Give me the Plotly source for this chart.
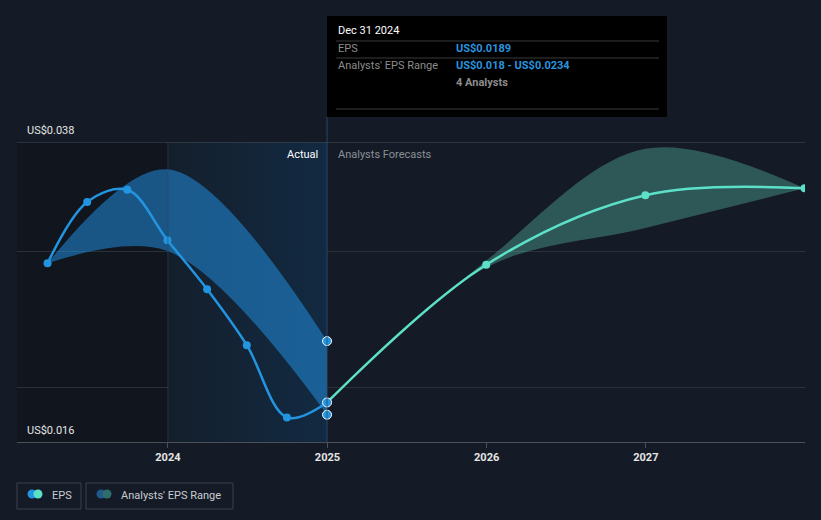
import plotly.graph_objects as go

# ---------------- data ----------------
actual_dates = ['2023-03-31', '2023-06-30', '2023-09-30', '2023-12-31',
                '2024-03-31', '2024-06-30', '2024-09-30', '2024-12-31']
actual_eps = [0.0291, 0.0336, 0.0345, 0.0308, 0.0272, 0.0231, 0.0178, 0.0189]

past_range_dates = ['2023-03-31', '2023-12-31', '2024-12-31']
past_low = [0.0291, 0.0300, 0.0180]
past_high = [0.0291, 0.0360, 0.0234]

fc_dates = ['2024-12-31', '2025-12-31', '2026-12-31', '2027-12-31']
fc_eps = [0.0189, 0.0290, 0.0341, 0.0346]
fc_low = [0.0189, 0.0288, 0.0317, 0.0346]
fc_high = [0.0189, 0.0293, 0.0375, 0.0346]

hover_date = '2024-12-31'
hover_eps = [0.0189]
hover_range = [0.0180, 0.0234]

tick_vals = ['2024-01-01', '2025-01-01', '2026-01-01', '2027-01-01']
tick_text = ['2024', '2025', '2026', '2027']
y_min, y_max = 0.016, 0.038
x_range = ['2023-01-20', '2028-01-01']

# ---------------- style ----------------
W, H = 821, 520
ML, MR, MT, MB = 17, 16, 142, 78
BG = '#151b26'
BLUE = '#2394df'
TEAL = '#5ce1c8'
FONT = 'Roboto'


def px(x):
    return (x - ML) / (W - ML - MR)


def py(y):
    return (H - MB - y) / (H - MT - MB)


fig = go.Figure()

# highlighted "past year" region with gradient
fig.add_trace(go.Scatter(
    x=['2024-01-01', '2024-12-31', '2024-12-31', '2024-01-01', '2024-01-01'],
    y=[y_min, y_min, y_max, y_max, y_min],
    mode='lines', line=dict(width=0), fill='toself',
    fillgradient=dict(type='horizontal',
                      colorscale=[[0, 'rgb(20,31,44)'], [1, 'rgb(18,42,66)']]),
    hoverinfo='skip', showlegend=False))

# past analyst range band
fig.add_trace(go.Scatter(x=past_range_dates, y=past_low, mode='lines',
                         line=dict(width=0, shape='spline', smoothing=1),
                         hoverinfo='skip', showlegend=False))
fig.add_trace(go.Scatter(x=past_range_dates, y=past_high, mode='lines',
                         line=dict(width=0, shape='spline', smoothing=1),
                         fill='tonexty', fillcolor='rgba(33,140,220,0.55)',
                         hoverinfo='skip', showlegend=False))

# forecast analyst range band
fig.add_trace(go.Scatter(x=fc_dates, y=fc_low, mode='lines',
                         line=dict(width=0, shape='spline', smoothing=1),
                         hoverinfo='skip', showlegend=False))
fig.add_trace(go.Scatter(x=fc_dates, y=fc_high, mode='lines',
                         line=dict(width=0, shape='spline', smoothing=1),
                         fill='tonexty', fillcolor='rgba(95,201,184,0.35)',
                         hoverinfo='skip', showlegend=False))

# forecast EPS line
fig.add_trace(go.Scatter(x=fc_dates[1:], y=fc_eps[1:], mode='markers',
                         marker=dict(color=TEAL, size=8),
                         hoverinfo='skip', showlegend=False))
fig.add_trace(go.Scatter(x=fc_dates, y=fc_eps, mode='lines',
                         line=dict(color=TEAL, width=2.5, shape='spline', smoothing=1),
                         hoverinfo='skip', showlegend=False))

# actual EPS line
fig.add_trace(go.Scatter(x=actual_dates, y=actual_eps, mode='lines+markers',
                         line=dict(color=BLUE, width=2.5, shape='spline', smoothing=1),
                         marker=dict(color=BLUE, size=8),
                         hoverinfo='skip', showlegend=False))

# hovered points
fig.add_trace(go.Scatter(x=[hover_date] * 3, y=hover_eps + hover_range, mode='markers',
                         marker=dict(color=BLUE, size=9, line=dict(color='white', width=1)),
                         hoverinfo='skip', showlegend=False))

shapes = []
# darker area before 2024
shapes.append(dict(type='rect', xref='x', yref='y', x0=x_range[0], x1='2024-01-01',
                   y0=y_min, y1=y_max, fillcolor='rgba(10,12,18,0.35)', line=dict(width=0),
                   layer='below'))
# top line
shapes.append(dict(type='line', xref='paper', yref='y', x0=0, x1=1, y0=y_max, y1=y_max,
                   line=dict(color='#4a4f58', width=1)))
# 2024 divider
shapes.append(dict(type='line', xref='x', yref='y', x0='2024-01-01', x1='2024-01-01',
                   y0=y_min, y1=y_max, line=dict(color='rgba(40,70,100,0.6)', width=1)))
# hover vertical line
shapes.append(dict(type='line', xref='x', yref='paper', x0=hover_date, x1=hover_date,
                   y0=0, y1=py(117), line=dict(color='rgba(45,80,115,0.8)', width=1)))
# tooltip box
shapes.append(dict(type='rect', xref='paper', yref='paper', x0=px(327), x1=px(667),
                   y0=py(117), y1=py(16), fillcolor='#000000', line=dict(width=0)))
for yy in (41, 58, 109):
    shapes.append(dict(type='line', xref='paper', yref='paper', x0=px(336), x1=px(659),
                       y0=py(yy), y1=py(yy), line=dict(color='#3a3a3a', width=1)))
# legend boxes
for x0, x1 in ((17, 81), (86, 233)):
    shapes.append(dict(type='rect', xref='paper', yref='paper', x0=px(x0), x1=px(x1),
                       y0=py(509), y1=py(483), line=dict(color='#3c424b', width=1),
                       fillcolor='rgba(0,0,0,0)'))
# legend icons
for cx, col in ((32, BLUE), (38, TEAL), (101, '#1f5a8a'), (107, '#2e6f6c')):
    shapes.append(dict(type='circle', xref='paper', yref='paper',
                       x0=px(cx - 4.5), x1=px(cx + 4.5), y0=py(498.5), y1=py(489.5),
                       fillcolor=col, line=dict(width=0)))

ann = []


def text(x, y, s, color, size=11, anchor='left', weight='normal'):
    ann.append(dict(x=px(x), y=py(y), xref='paper', yref='paper', text=s,
                    showarrow=False, xanchor=anchor, yanchor='middle',
                    font=dict(family=FONT, size=size, color=color, weight=weight)))


text(25, 130, 'US$0.038', '#e6e6e6')
text(25, 430, 'US$0.016', '#e6e6e6')
text(320, 154, 'Actual', '#ffffff', anchor='right')
text(336, 154, 'Analysts Forecasts', '#8a8f97')
text(336, 31, 'Dec 31 2024', '#ffffff')
text(336, 49, 'EPS', '#8c8c8c')
text(454, 49, 'US$0.0189', '#2a93df', weight='bold')
text(336, 66, "Analysts' EPS Range", '#8c8c8c')
text(454, 66, 'US$0.018 - US$0.0234', '#2a93df', weight='bold')
text(454, 83, '4 Analysts', '#8c8c8c', weight='bold')
text(50, 495, 'EPS', '#c8ccd2')
text(119, 495, "Analysts' EPS Range", '#c8ccd2')

fig.update_layout(
    width=W, height=H, margin=dict(l=ML, r=MR, t=MT, b=MB),
    paper_bgcolor=BG, plot_bgcolor=BG,
    font=dict(family=FONT, color='#e6e6e6'),
    showlegend=False, shapes=shapes, annotations=ann,
    xaxis=dict(type='date', range=x_range, tickvals=tick_vals, ticktext=tick_text,
               showgrid=False, zeroline=False, showline=True, linecolor='#4a4f58',
               ticks='outside', ticklen=5, tickcolor='#4a4f58',
               tickfont=dict(family=FONT, size=11, color='#e6e6e6', weight='bold'),
               fixedrange=True),
    yaxis=dict(range=[y_min, y_max], tickvals=[0.02, 0.03], showticklabels=False,
               gridcolor='#2b3139', gridwidth=1, zeroline=False, showline=False,
               fixedrange=True),
)

fig.write_html(
    'out.html',
    config={'displayModeBar': False},
    post_script="document.body.style.margin='0';document.body.style.padding='0';"
                "document.body.style.background='#151b26';"
                "document.body.style.overflow='hidden';",
)
